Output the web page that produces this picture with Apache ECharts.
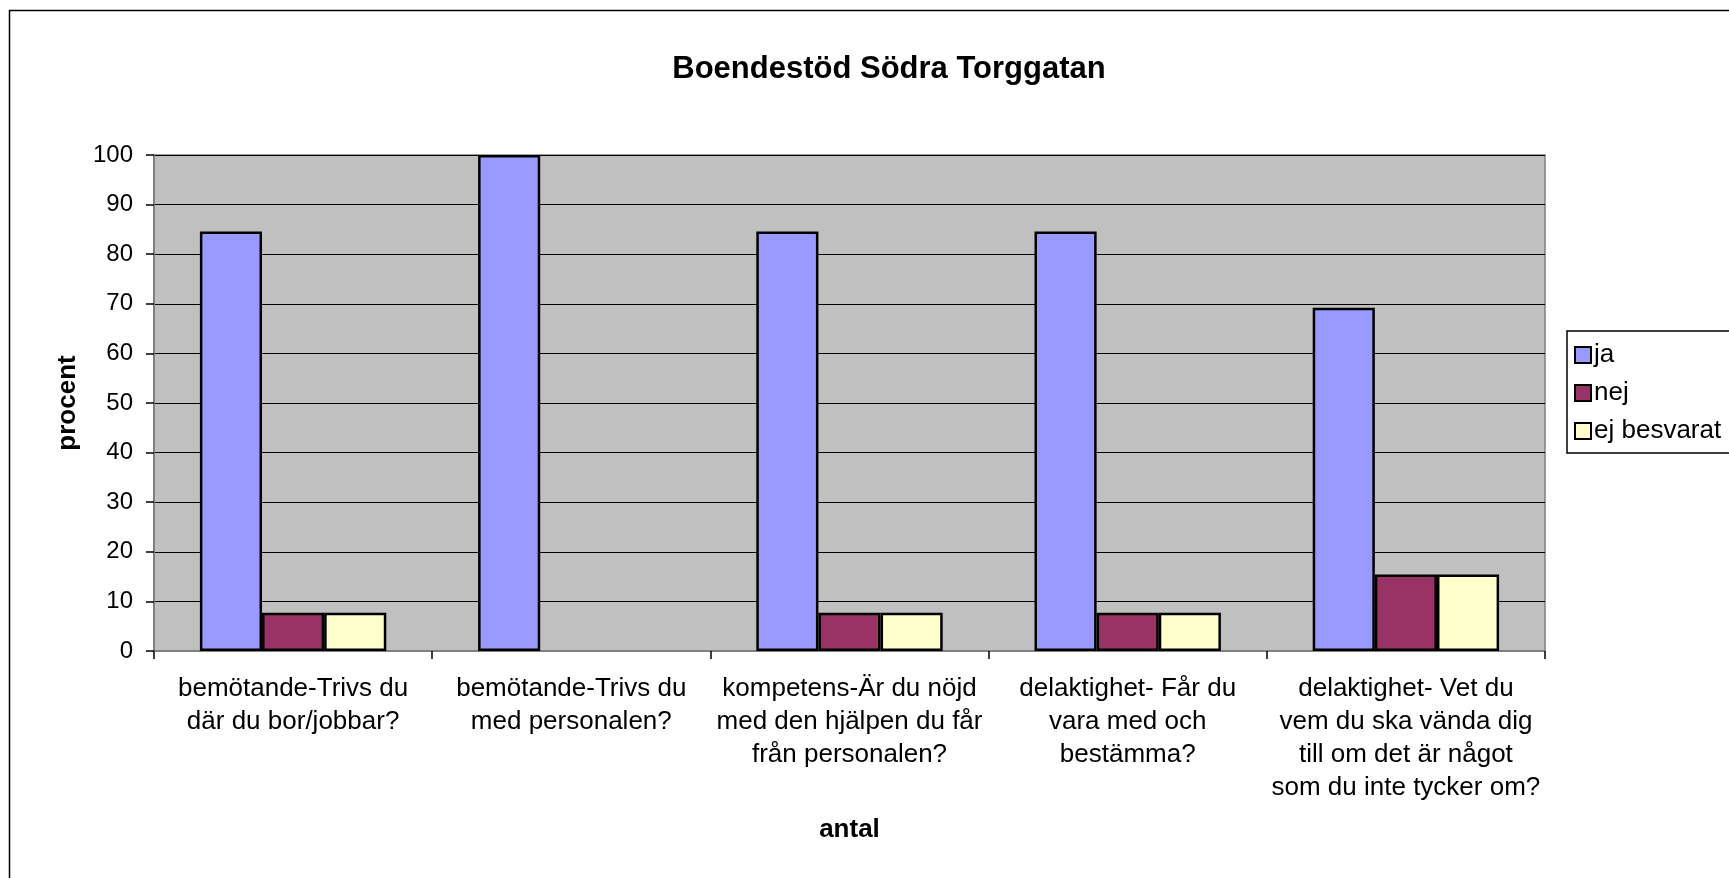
<!DOCTYPE html>
<html>
<head>
<meta charset="utf-8">
<script src="https://cdn.jsdelivr.net/npm/echarts@6/dist/echarts.min.js"></script>
<style>
html,body{margin:0;padding:0;background:#fff;}
#chart{width:1729px;height:878px;}
</style>
</head>
<body>
<div id="chart"></div>
<script>
const categories = [
  "bemötande-Trivs du\ndär du bor/jobbar?",
  "bemötande-Trivs du\nmed personalen?",
  "kompetens-Är du nöjd\nmed den hjälpen du får\nfrån personalen?",
  "delaktighet- Får du\nvara med och\nbestämma?",
  "delaktighet- Vet du\nvem du ska vända dig\ntill om det är något\nsom du inte tycker om?"
];
const ja = [84.6, 100, 84.6, 84.6, 69.2];
const nej = [7.7, 0, 7.7, 7.7, 15.4];
const ejBesvarat = [7.7, 0, 7.7, 7.7, 15.4];
const seriesNames = ["ja", "nej", "ej besvarat"];
const colors = ["#9999FF", "#993366", "#FFFFCC"];

const font = "Arial, 'Liberation Sans', sans-serif";
const chart = echarts.init(document.getElementById('chart'));
const mk = (name, data, color) => ({
  name, type: 'bar',
  data: data.map(v => v === 0 ? { value: v, itemStyle: { borderWidth: 0, opacity: 0 } } : v),
  barGap: '0%', barCategoryGap: '33%',
  itemStyle: { color, borderColor: '#000', borderWidth: 2.5 },
  emphasis: { disabled: true }
});
chart.setOption({
  animation: false,
  textStyle: { fontFamily: font },
  graphic: [{
    type: 'rect', silent: true, z: -10,
    shape: { x: 9.5, y: 10.5, width: 1800, height: 900 },
    style: { fill: '#fff', stroke: '#000', lineWidth: 1.5 }
  }],
  title: {
    text: 'Boendestöd Södra Torggatan',
    left: 884, top: 49, textAlign: 'center',
    textStyle: { fontFamily: font, fontSize: 31, fontWeight: 'bold', color: '#000' }
  },
  legend: {
    orient: 'vertical', left: 1567, top: 331,
    data: seriesNames,
    itemWidth: 16, itemHeight: 16, itemGap: 12,
    icon: 'rect',
    padding: [11, 40, 9, 7],
    borderColor: '#000', borderWidth: 1.5, backgroundColor: '#fff',
    itemStyle: { borderColor: '#000', borderWidth: 2 },
    textStyle: { fontFamily: font, fontSize: 26, lineHeight: 26, color: '#000', padding: [0, 0, 0, -2] }
  },
  grid: {
    left: 154, right: 184, top: 155, bottom: 227,
    show: true, backgroundColor: '#C0C0C0', borderColor: '#808080', borderWidth: 1.5
  },
  xAxis: {
    type: 'category', data: categories,
    name: 'antal', nameLocation: 'middle', nameGap: 166,
    nameTextStyle: { fontFamily: font, fontSize: 26, fontWeight: 'bold', color: '#000' },
    axisLine: { lineStyle: { color: '#808080', width: 2 } },
    axisTick: { show: true, length: 8, lineStyle: { color: '#000', width: 1.5 } },
    axisLabel: { interval: 0, margin: 21, fontSize: 26, color: '#000', lineHeight: 33, align: 'center' },
    splitLine: { show: false }
  },
  yAxis: {
    type: 'value', min: 0, max: 100, interval: 10,
    name: 'procent', nameLocation: 'middle', nameGap: 73, nameRotate: 90,
    nameTextStyle: { fontFamily: font, fontSize: 26, fontWeight: 'bold', color: '#000' },
    axisLine: { show: true, lineStyle: { color: '#808080', width: 2 } },
    axisTick: { show: true, length: 8, lineStyle: { color: '#000', width: 1.5 } },
    axisLabel: { margin: 21, fontSize: 24, color: '#000' },
    splitLine: { show: true, lineStyle: { color: '#000', width: 1.2 } }
  },
  series: [
    mk(seriesNames[0], ja, colors[0]),
    mk(seriesNames[1], nej, colors[1]),
    mk(seriesNames[2], ejBesvarat, colors[2])
  ]
});
</script>
</body>
</html>
